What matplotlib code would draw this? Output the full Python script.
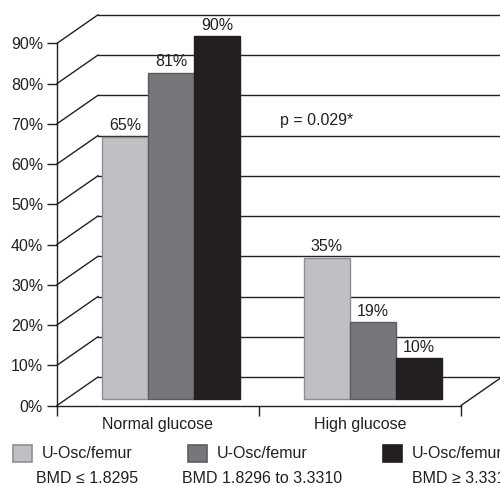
import matplotlib
matplotlib.use("Agg")
import matplotlib.pyplot as plt
import matplotlib.transforms as mtransforms
from matplotlib.patches import Rectangle

# ---- data ----
categories = ["Normal glucose", "High glucose"]
low_group = [65, 35]
mid_group = [81, 19]
high_group = [90, 10]
series_line1 = ["U-Osc/femur", "U-Osc/femur", "U-Osc/femur"]
series_line2 = ["BMD \u2264 1.8295", "BMD 1.8296 to 3.3310", "BMD \u2265 3.3311"]
y_ticks = [0, 10, 20, 30, 40, 50, 60, 70, 80, 90]
y_tick_labels = ["0%", "10%", "20%", "30%", "40%", "50%", "60%", "70%", "80%", "90%"]
p_text = "p = 0.029*"

colors = ["#bfc0c4", "#76777b", "#231f20"]
edges = ["#8e8f93", "#5c5d61", "#231f20"]

plt.rcParams["font.family"] = ["Liberation Sans Narrow", "Liberation Sans", "DejaVu Sans"]
FS = 11.5
LC = "#231f20"

W, H = 500, 486
fig = plt.figure(figsize=(W / 100, H / 100), dpi=100)
ax = fig.add_axes([57 / W, (H - 405.5) / H, (461 - 57) / W, (405.5 - 43.3) / H])
ax.set_xlim(0, len(categories))
ax.set_ylim(0, 90)

# depth offsets (pixels)
back = mtransforms.offset_copy(ax.transData, fig=fig, x=41, y=28.5, units="dots")
mid = mtransforms.offset_copy(ax.transData, fig=fig, x=13, y=7, units="dots")

n = len(categories)
# back wall gridlines
for v in y_ticks:
    ax.plot([0, n + 0.2], [v, v], color=LC, lw=1.0, transform=back, clip_on=False, zorder=1)
    # side wall diagonals
    fx, fy = ax.transData.transform((0, v))
    bx, by = back.transform((0, v))
    ax.plot([fx, bx], [fy, by], color=LC, lw=1.0, transform=None, clip_on=False, zorder=1)
# floor right diagonal
fx, fy = ax.transData.transform((n, 0))
bx, by = back.transform((n, 0))
ax.plot([fx, bx], [fy, by], color=LC, lw=1.0, transform=None, clip_on=False, zorder=1)

# bars
bw = 0.228
groups = [low_group, mid_group, high_group]
for k, vals in enumerate(groups):
    xs = [i + 0.5 + (k - 1) * bw for i in range(n)]
    bars = ax.bar(xs, vals, width=bw, color=colors[k], edgecolor=edges[k], linewidth=1.0,
                  transform=mid, clip_on=False, zorder=3)
    for x, v in zip(xs, vals):
        ax.annotate(f"{v}%", xy=(x, v), xycoords=mid, xytext=(0, 2.5), textcoords="offset points",
                    ha="center", va="bottom", fontsize=FS, color=LC, zorder=4)

ax.text(1.104, 70.9, p_text, fontsize=FS, color=LC, ha="left", va="center")

# axes styling
for s in ["top", "right"]:
    ax.spines[s].set_visible(False)
for s in ["left", "bottom"]:
    ax.spines[s].set_color(LC)
    ax.spines[s].set_linewidth(1.0)
    ax.spines[s].set_zorder(5)
ax.set_yticks(y_ticks)
ax.set_yticklabels(y_tick_labels, fontsize=FS, color=LC)
ax.set_xticks(range(n + 1))
ax.set_xticklabels([])
ax.set_xticks([i + 0.5 for i in range(n)], minor=True)
ax.set_xticklabels(categories, minor=True, fontsize=FS, color=LC)
ax.tick_params(axis="x", which="minor", length=0, pad=8)
ax.tick_params(axis="x", which="major", length=7, width=1, color=LC, direction="out")
ax.tick_params(axis="y", length=7, width=1, color=LC, direction="out", pad=3)
ax.patch.set_visible(False)

# legend (manual)
sq_x = [12.7, 188, 383]
for k in range(3):
    x0 = sq_x[k]
    fig.add_artist(Rectangle((x0 / W, (H - 461.7) / H), 19 / W, 16.7 / H,
                             facecolor=colors[k], edgecolor=edges[k], lw=1.2,
                             transform=fig.transFigure))
    tx = x0 + 29
    if k < 2:
        t1 = fig.text(tx / W, (H - 453) / H, series_line1[k], fontsize=FS, color=LC, ha="left", va="center")
        fig.canvas.draw()
        bb = t1.get_window_extent()
        cx = (bb.x0 + bb.x1) / 2
        fig.text(cx / W, (H - 478) / H, series_line2[k], fontsize=FS, color=LC, ha="center", va="center")
    else:
        fig.text(tx / W, (H - 453) / H, series_line1[k], fontsize=FS, color=LC, ha="left", va="center")
        fig.text(tx / W, (H - 478) / H, series_line2[k], fontsize=FS, color=LC, ha="left", va="center")

fig.savefig("out.png", dpi=100)
